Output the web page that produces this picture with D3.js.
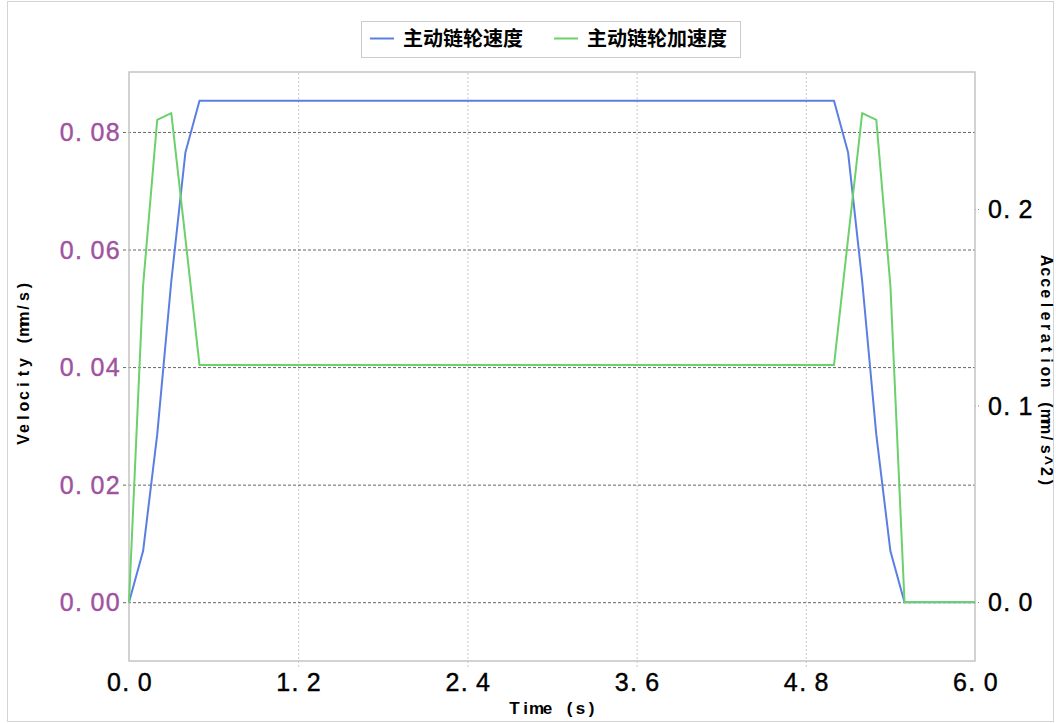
<!DOCTYPE html>
<html>
<head>
<meta charset="utf-8">
<script src="https://cdn.jsdelivr.net/npm/d3@7"></script>
<style>
  html, body { margin: 0; padding: 0; background: #fff; }
  svg { display: block; }
</style>
</head>
<body>
<svg id="chart" width="1056" height="723"></svg>
<script>
// Sample times (s)
const times = [
  0.0, 0.1, 0.2, 0.3, 0.4, 0.5, 0.6, 0.7, 0.8, 0.9,
  1.0, 1.1, 1.2, 1.3, 1.4, 1.5, 1.6, 1.7, 1.8, 1.9,
  2.0, 2.1, 2.2, 2.3, 2.4, 2.5, 2.6, 2.7, 2.8, 2.9,
  3.0, 3.1, 3.2, 3.3, 3.4, 3.5, 3.6, 3.7, 3.8, 3.9,
  4.0, 4.1, 4.2, 4.3, 4.4, 4.5, 4.6, 4.7, 4.8, 4.9,
  5.0, 5.1, 5.2, 5.3, 5.4, 5.5, 5.6, 5.7, 5.8, 5.9, 6.0
];

// Drive sprocket velocity (mm/s)
const velocity = [
  0, 0.0087, 0.0285, 0.0546, 0.0765, 0.0853, 0.0853, 0.0853, 0.0853, 0.0853,
  0.0853, 0.0853, 0.0853, 0.0853, 0.0853, 0.0853, 0.0853, 0.0853, 0.0853, 0.0853,
  0.0853, 0.0853, 0.0853, 0.0853, 0.0853, 0.0853, 0.0853, 0.0853, 0.0853, 0.0853,
  0.0853, 0.0853, 0.0853, 0.0853, 0.0853, 0.0853, 0.0853, 0.0853, 0.0853, 0.0853,
  0.0853, 0.0853, 0.0853, 0.0853, 0.0853, 0.0853, 0.0853, 0.0853, 0.0853, 0.0853,
  0.0853, 0.0765, 0.0546, 0.0285, 0.0087, 0, 0, 0, 0, 0, 0
];

// Drive sprocket acceleration (mm/s^2)
const acceleration = [
  0, 0.161, 0.2453, 0.2488, 0.185, 0.1206, 0.1206, 0.1206, 0.1206, 0.1206,
  0.1206, 0.1206, 0.1206, 0.1206, 0.1206, 0.1206, 0.1206, 0.1206, 0.1206, 0.1206,
  0.1206, 0.1206, 0.1206, 0.1206, 0.1206, 0.1206, 0.1206, 0.1206, 0.1206, 0.1206,
  0.1206, 0.1206, 0.1206, 0.1206, 0.1206, 0.1206, 0.1206, 0.1206, 0.1206, 0.1206,
  0.1206, 0.1206, 0.1206, 0.1206, 0.1206, 0.1206, 0.1206, 0.1206, 0.1206, 0.1206,
  0.1206, 0.185, 0.2488, 0.2453, 0.161, 0, 0, 0, 0, 0, 0
];

const seriesNames = ["主动链轮速度", "主动链轮加速度"];
const xTicks = [0, 1.2, 2.4, 3.6, 4.8, 6.0];
const leftTicks = [0, 0.02, 0.04, 0.06, 0.08];
const rightTicks = [0, 0.1, 0.2];

const colors = { vel: "#5a7fe0", acc: "#6cd06c" };
const sansFont = "'Liberation Sans', Arial, sans-serif";
const cjkFont = "'Noto Sans CJK SC', sans-serif";

const svg = d3.select("#chart");
const plot = { left: 129, right: 975, top: 72, bottom: 661 };

const x = d3.scaleLinear().domain([0, 6]).range([plot.left, plot.right]);
const yL = d3.scaleLinear().domain([-0.01, 0.0902]).range([plot.bottom, plot.top]);
const yR = d3.scaleLinear().domain([-0.030, 0.2697]).range([plot.bottom, plot.top]);

// Lay a string out on a fixed-pitch grid.
// Returns per-glyph x positions: cell left edges, or cell centres when centred=true.
function pitchX(str, ax, anchor, adv, centred) {
  const n = str.length;
  let x0 = ax;
  if (anchor === "end") x0 = ax - n * adv;
  else if (anchor === "middle") x0 = ax - (n * adv) / 2;
  const off = centred ? adv / 2 : 0;
  return d3.range(n).map(i => (x0 + i * adv + off).toFixed(2)).join(" ");
}

// Outer figure frame
svg.append("rect")
  .attr("x", 7.5).attr("y", 1.5).attr("width", 1046).attr("height", 720)
  .attr("fill", "none").attr("stroke", "#d4d4d4").attr("stroke-width", 1);

// Vertical grid (dotted, extends slightly below the plot as tick marks)
svg.append("g")
  .attr("transform", `translate(0,${plot.bottom})`)
  .call(d3.axisBottom(x).tickValues(xTicks.slice(1, -1)).tickSize(-(plot.bottom - plot.top)).tickSizeOuter(0).tickFormat(""))
  .call(g => g.select(".domain").remove())
  .call(g => g.selectAll(".tick line")
    .attr("y1", 6)
    .attr("stroke", "#c8c8c8").attr("stroke-width", 1).attr("stroke-dasharray", "2,2"));

// Horizontal grid from the velocity axis (dashed)
svg.append("g")
  .attr("transform", `translate(${plot.left},0)`)
  .call(d3.axisLeft(yL).tickValues(leftTicks).tickSize(-(plot.right - plot.left)).tickSizeOuter(0).tickFormat(""))
  .call(g => g.select(".domain").remove())
  .call(g => g.selectAll(".tick line")
    .attr("x1", -6)
    .attr("stroke", "#666").attr("stroke-width", 1).attr("stroke-dasharray", "3,2"));

// Right tick marks
svg.append("g")
  .attr("transform", `translate(${plot.right},0)`)
  .call(d3.axisRight(yR).tickValues(rightTicks).tickSize(5).tickSizeOuter(0).tickFormat(""))
  .call(g => g.select(".domain").remove())
  .call(g => g.selectAll(".tick line")
    .attr("stroke", "#888").attr("stroke-width", 1).attr("stroke-dasharray", "1,2"));

// Plot frame
svg.append("rect")
  .attr("x", plot.left).attr("y", plot.top)
  .attr("width", plot.right - plot.left).attr("height", plot.bottom - plot.top)
  .attr("fill", "none").attr("stroke", "#c4c4c4").attr("stroke-width", 1.5);

// Tick labels
const fmtL = d => d3.format(".2f")(d);
const fmtR = d => d3.format(".1f")(d);
const tickAdv = 15.3;

svg.append("g").selectAll("text").data(leftTicks).join("text")
  .attr("x", d => pitchX(fmtL(d), 121, "end", tickAdv))
  .attr("y", d => yL(d)).attr("dy", "0.36em")
  .attr("font-family", sansFont).attr("font-size", 25)
  .attr("fill", "#a052a0").attr("stroke", "#a052a0").attr("stroke-width", 0.4)
  .text(fmtL);

svg.append("g").selectAll("text").data(rightTicks).join("text")
  .attr("x", d => pitchX(fmtR(d), 988, "start", tickAdv))
  .attr("y", d => yR(d)).attr("dy", "0.36em")
  .attr("font-family", sansFont).attr("font-size", 25)
  .attr("fill", "#000").attr("stroke", "#000").attr("stroke-width", 0.4)
  .text(fmtR);

svg.append("g").selectAll("text").data(xTicks).join("text")
  .attr("x", d => pitchX(fmtR(d), x(d) + 1, "middle", tickAdv))
  .attr("y", 691)
  .attr("font-family", sansFont).attr("font-size", 25)
  .attr("fill", "#000").attr("stroke", "#000").attr("stroke-width", 0.4)
  .text(fmtR);

// Axis titles: bold, fixed pitch, each glyph centred in its cell
const titleAdv = 11;
const midY = (plot.top + plot.bottom) / 2;

const velTitle = "Velocity (mm/s)";
svg.append("text")
  .attr("transform", `translate(29,${midY - 4}) rotate(-90)`)
  .attr("x", pitchX(velTitle, 0, "middle", titleAdv, true))
  .attr("text-anchor", "middle")
  .attr("font-family", sansFont).attr("font-size", 16).attr("font-weight", "bold")
  .text(velTitle);

const accTitle = "Acceleration (mm/s^2)";
svg.append("text")
  .attr("transform", `translate(1041,${midY + 5}) rotate(90)`)
  .attr("x", pitchX(accTitle, 0, "middle", 11.1, true))
  .attr("text-anchor", "middle")
  .attr("font-family", sansFont).attr("font-size", 16).attr("font-weight", "bold")
  .text(accTitle);

const timeTitle = "Time (s)";
svg.append("text")
  .attr("x", pitchX(timeTitle, (plot.left + plot.right) / 2 + 1, "middle", titleAdv, true))
  .attr("y", 714)
  .attr("text-anchor", "middle")
  .attr("font-family", sansFont).attr("font-size", 17).attr("font-weight", "bold")
  .text(timeTitle);

// Series lines
const velLine = d3.line().x((d, i) => x(times[i])).y(d => yL(d));
const accLine = d3.line().x((d, i) => x(times[i])).y(d => yR(d));

svg.append("path").datum(velocity)
  .attr("d", velLine)
  .attr("fill", "none").attr("stroke", colors.vel).attr("stroke-width", 2)
  .attr("stroke-linejoin", "round");

svg.append("path").datum(acceleration)
  .attr("d", accLine)
  .attr("fill", "none").attr("stroke", colors.acc).attr("stroke-width", 2)
  .attr("stroke-linejoin", "round");

// Legend
const legend = svg.append("g");
legend.append("rect")
  .attr("x", 361.5).attr("y", 21.5).attr("width", 379).attr("height", 36)
  .attr("fill", "#fff").attr("stroke", "#cccccc").attr("stroke-width", 1);

const legendItems = [
  { name: seriesNames[0], color: colors.vel, x0: 370 },
  { name: seriesNames[1], color: colors.acc, x0: 554 }
];
legendItems.forEach(it => {
  legend.append("line")
    .attr("x1", it.x0).attr("x2", it.x0 + 24)
    .attr("y1", 38.5).attr("y2", 38.5)
    .attr("stroke", it.color).attr("stroke-width", 2);
  legend.append("text")
    .attr("x", it.x0 + 33).attr("y", 39).attr("dy", "0.36em")
    .attr("font-family", cjkFont).attr("font-size", 20).attr("font-weight", "bold")
    .attr("fill", "#000")
    .text(it.name);
});
</script>
</body>
</html>
